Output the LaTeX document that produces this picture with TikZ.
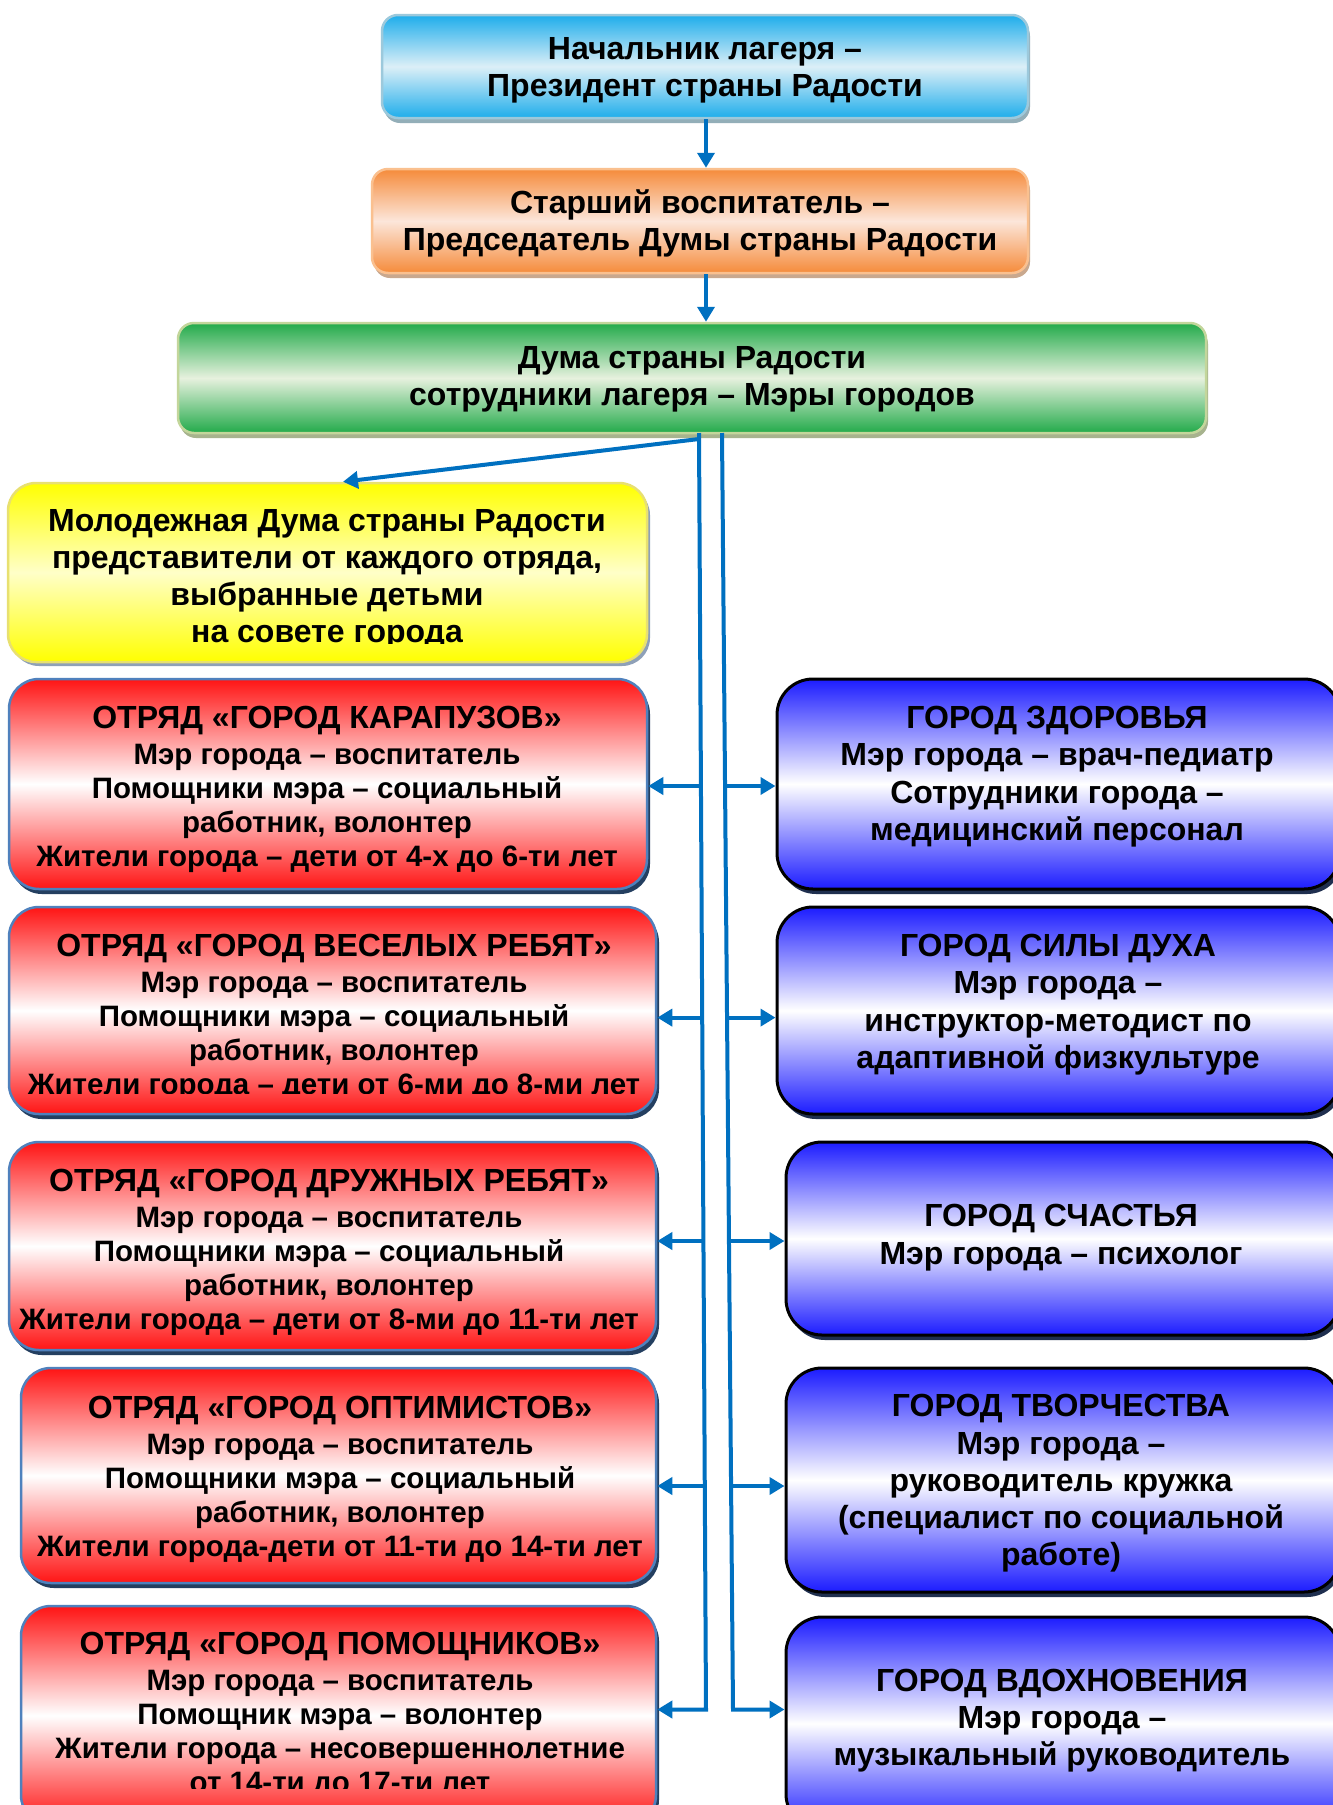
\documentclass[tikz,border=0pt]{standalone}
\usepackage{fontspec}
\setmainfont{Liberation Sans}
\usetikzlibrary{arrows.meta,shadows,calc}
\definecolor{lineblue}{HTML}{0070C0}
\definecolor{skyE}{HTML}{1EADEB}
\definecolor{skyM}{HTML}{DCEFF7}
\definecolor{skyB}{HTML}{9CC9DC}
\definecolor{skyS}{HTML}{93AEB8}
\definecolor{orE}{HTML}{F58B3B}
\definecolor{orM}{HTML}{FCE6DA}
\definecolor{orB}{HTML}{FAC08F}
\definecolor{orS}{HTML}{C9A88E}
\definecolor{grE}{HTML}{22AA4A}
\definecolor{grM}{HTML}{E7F1DE}
\definecolor{grB}{HTML}{C3D69B}
\definecolor{grS}{HTML}{A7B38E}
\definecolor{yeE}{HTML}{FFFF00}
\definecolor{yeM}{HTML}{FFFFC8}
\definecolor{yeB}{HTML}{E8E070}
\definecolor{yeS}{HTML}{8EA0B8}
\definecolor{rdE}{HTML}{FF1414}
\definecolor{rdB}{HTML}{4F81BD}
\definecolor{rdS}{HTML}{243F60}
\definecolor{blE}{HTML}{1C1CFF}
\definecolor{blS}{HTML}{1F2F4F}
\tikzset{
  boxbase/.style={rectangle, inner sep=0pt, line width=2.5pt},
  topbox/.style={boxbase, rounded corners=16pt},
  skybox/.style={topbox, draw=skyB, top color=skyE, bottom color=skyE, middle color=skyM,
    drop shadow={shadow xshift=2pt, shadow yshift=-5pt, opacity=1, fill=skyS}},
  orbox/.style={topbox, draw=orB, top color=orE, bottom color=orE, middle color=orM,
    drop shadow={shadow xshift=2pt, shadow yshift=-5pt, opacity=1, fill=orS}},
  grbox/.style={topbox, draw=grB, top color=grE, bottom color=grE, middle color=grM,
    drop shadow={shadow xshift=2pt, shadow yshift=-5pt, opacity=1, fill=grS}},
  yebox/.style={boxbase, rounded corners=28pt, draw=yeB, top color=yeE, bottom color=yeE, middle color=yeM,
    drop shadow={shadow xshift=3pt, shadow yshift=-4pt, opacity=1, fill=yeS}},
  rdbox/.style={boxbase, rounded corners=30pt, draw=rdB, top color=rdE, bottom color=rdE, middle color=white,
    drop shadow={shadow xshift=3pt, shadow yshift=-5pt, opacity=1, fill=rdS}},
  blbox/.style={boxbase, rounded corners=36pt, draw=black, line width=3pt, top color=blE, bottom color=blE, middle color=white,
    drop shadow={shadow xshift=3pt, shadow yshift=-5pt, opacity=1, fill=blS}},
  toptxt/.style={align=center, font=\bfseries\fontsize{32}{36.5}\selectfont},
  yetxt/.style={align=center, font=\bfseries\fontsize{32}{37}\selectfont},
  rdtxt/.style={align=center, font=\bfseries\fontsize{29.5}{34}\selectfont},
  bltxt/.style={align=center, font=\bfseries\fontsize{32}{37.3}\selectfont},
  conn/.style={draw=lineblue, line width=4pt},
  arr/.style={conn, -{Triangle[length=15pt,width=17pt]}},
}
\begin{document}
\begin{tikzpicture}[x=1pt,y=-1pt]
\useasboundingbox (0,0) rectangle (1333,1805);
\clip (0,0) rectangle (1333,1805);
\fill[white] (0,0) rectangle (1333,1805);

% top chain
\node[skybox, minimum width=646pt, minimum height=103pt] (b1) at (705,66.5) {};
\node[toptxt] (b1t) at (705,70.5) {Начальник лагеря –\\Президент страны Радости};
\node[orbox, minimum width=656pt, minimum height=104pt] (b2) at (700,221) {};
\node[toptxt] (b2t) at (700,223.5) {Старший воспитатель –\\Председатель Думы страны Радости};
\node[grbox, minimum width=1028pt, minimum height=110pt] (b3) at (692,378) {};
\node[toptxt] (b3t) at (692,379.5) {Дума страны Радости\\сотрудники лагеря – Мэры городов};

% yellow
\node[yebox, minimum width=639pt, minimum height=179pt] (ye) at (327.5,572.5) {};
\begin{scope}
\clip (0,480) rectangle (660,643);
\node[yetxt] (yet) at (327,579) {Молодежная Дума страны Радости\\представители от каждого отряда,\\выбранные детьми\\на совете города};
\end{scope}

% red boxes
\node[rdbox, minimum width=638pt, minimum height=210pt] (r1) at (328,784) {};
\node[rdtxt] (r1t) at (327,789) {{\fontsize{32}{34}\selectfont ОТРЯД «ГОРОД КАРАПУЗОВ»}\\[2pt]Мэр города – воспитатель\\Помощники мэра – социальный\\работник, волонтер\\Жители города – дети от 4-х до 6-ти лет};
\node[rdbox, minimum width=647pt, minimum height=207pt] (r2) at (332.5,1010.5) {};
\begin{scope}
\clip (0,900) rectangle (660,1093);
\node[rdtxt] (r2t) at (334,1017.5) {{\fontsize{32}{34}\selectfont ОТРЯД «ГОРОД ВЕСЕЛЫХ РЕБЯТ»}\\[2pt]Мэр города – воспитатель\\Помощники мэра – социальный\\работник, волонтер\\Жители города – дети от 6-ми до 8-ми лет};
\end{scope}
\node[rdbox, minimum width=647pt, minimum height=208pt] (r3) at (332.5,1246) {};
\node[rdtxt] (r3t) at (329,1252) {{\fontsize{32}{34}\selectfont ОТРЯД «ГОРОД ДРУЖНЫХ РЕБЯТ»}\\[2pt]Мэр города – воспитатель\\Помощники мэра – социальный\\работник, волонтер\\Жители города – дети от 8-ми до 11-ти лет};
\node[rdbox, minimum width=635pt, minimum height=215pt] (r4) at (338.5,1475.5) {};
\node[rdtxt] (r4t) at (340,1479) {{\fontsize{32}{34}\selectfont ОТРЯД «ГОРОД ОПТИМИСТОВ»}\\[2pt]Мэр города – воспитатель\\Помощники мэра – социальный\\работник, волонтер\\Жители города-дети от 11-ти до 14-ти лет};
\node[rdbox, minimum width=635pt, minimum height=219pt] (r5) at (338.5,1715.5) {};
\begin{scope}
\clip (0,1600) rectangle (660,1788);
\node[rdtxt] (r5t) at (340,1715.5) {{\fontsize{32}{34}\selectfont ОТРЯД «ГОРОД ПОМОЩНИКОВ»}\\[2pt]Мэр города – воспитатель\\Помощник мэра – волонтер\\Жители города – несовершеннолетние\\от 14-ти до 17-ти лет};
\end{scope}

% blue boxes
\node[blbox, minimum width=563pt, minimum height=210pt] (c1) at (1058.5,784) {};
\node[bltxt] (c1t) at (1057,776.5) {ГОРОД ЗДОРОВЬЯ\\Мэр города – врач-педиатр\\Сотрудники города –\\медицинский персонал};
\node[blbox, minimum width=563pt, minimum height=207pt] (c2) at (1058.5,1010.5) {};
\node[bltxt] (c2t) at (1058,1004.5) {ГОРОД СИЛЫ ДУХА\\Мэр города –\\инструктор-методист по\\адаптивной физкультуре};
\node[blbox, minimum width=554pt, minimum height=193pt] (c3) at (1063,1238.5) {};
\node[bltxt] (c3t) at (1061,1237.5) {ГОРОД СЧАСТЬЯ\\Мэр города – психолог};
\node[blbox, minimum width=554pt, minimum height=224pt] (c4) at (1063,1480) {};
\node[bltxt] (c4t) at (1061,1483.5) {ГОРОД ТВОРЧЕСТВА\\Мэр города –\\руководитель кружка\\(специалист по социальной\\работе)};
\node[blbox, minimum width=554pt, minimum height=213pt] (c5) at (1063,1723.5) {};
\node[bltxt] (c5t) at (1062,1720.5) {ГОРОД ВДОХНОВЕНИЯ\\Мэр города –\\музыкальный руководитель};

% connectors
\draw[arr] (b1.south -| 706,0) -- (b2.north -| 706,0);
\draw[arr] (b2.south -| 706,0) -- (b3.north -| 706,0);

\coordinate (L0) at (699,433);
\coordinate (L1) at (701,786);
\coordinate (L2) at (702.2,1017.6);
\coordinate (L3) at (703.4,1241);
\coordinate (L4) at (704.8,1486);
\coordinate (L5) at (706,1709.5);
\coordinate (R0) at (722,433);
\coordinate (R1) at (725,786);
\coordinate (R2) at (727,1017.6);
\coordinate (R3) at (729,1241);
\coordinate (R4) at (731,1486);
\coordinate (R5) at (733,1709.5);
\coordinate (Y0) at (699,439);

\draw[arr] (Y0) -- (ye.north -| 343,0);
\draw[arr, line join=miter] (L0) -- (L5) -- (L5 -| r5.east);
\draw[arr, line join=miter] (R0) -- (R5) -- (R5 -| c5.west);
\draw[arr] (L1) -- (L1 -| r1.east);
\draw[arr] (L2) -- (L2 -| r2.east);
\draw[arr] (L3) -- (L3 -| r3.east);
\draw[arr] (L4) -- (L4 -| r4.east);
\draw[arr] (R1) -- (R1 -| c1.west);
\draw[arr] (R2) -- (R2 -| c2.west);
\draw[arr] (R3) -- (R3 -| c3.west);
\draw[arr] (R4) -- (R4 -| c4.west);
\end{tikzpicture}
\end{document}
